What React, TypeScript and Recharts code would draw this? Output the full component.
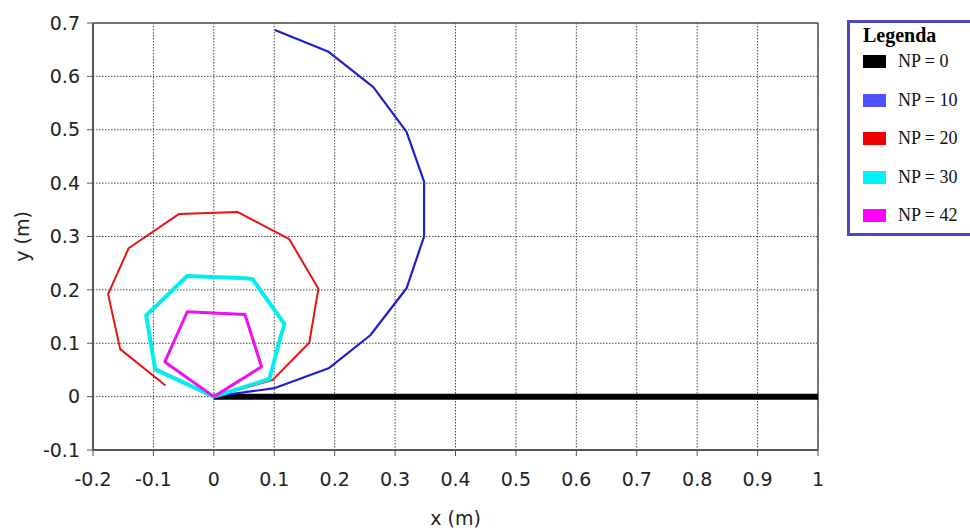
import { LineChart, Line, XAxis, YAxis, CartesianGrid, ReferenceLine } from "recharts";

const xTicks = [-0.2, -0.1, 0, 0.1, 0.2, 0.3, 0.4, 0.5, 0.6, 0.7, 0.8, 0.9, 1];
const yTicks = [-0.1, 0, 0.1, 0.2, 0.3, 0.4, 0.5, 0.6, 0.7];
const xMinorTicks = [-0.15, -0.05, 0.05, 0.15, 0.25, 0.35, 0.45, 0.55, 0.65, 0.75, 0.85, 0.95];
const yMinorTicks = [-0.05, 0.05, 0.15, 0.25, 0.35, 0.45, 0.55, 0.65];

// trajectories
const np0X = [0, 1];
const np0Y = [0, 0];
const np10X = [0, 0.101, 0.19, 0.259, 0.319, 0.348, 0.348, 0.319, 0.264, 0.19, 0.101];
const np10Y = [0, 0.016, 0.053, 0.115, 0.203, 0.3, 0.403, 0.496, 0.58, 0.646, 0.687];
const np20X = [0, 0.097, 0.158, 0.173, 0.125, 0.039, -0.058, -0.141, -0.175, -0.155, -0.08];
const np20Y = [0, 0.031, 0.101, 0.202, 0.295, 0.346, 0.342, 0.278, 0.192, 0.089, 0.021];
const np30X = [0, 0.092, 0.11, 0.117, 0.064, 0.053, -0.044, -0.112, -0.097, 0];
const np30Y = [0, 0.033, 0.11, 0.136, 0.22, 0.222, 0.226, 0.152, 0.051, 0];
const np42X = [0, 0.079, 0.0515, -0.044, -0.081, 0];
const np42Y = [0, 0.056, 0.154, 0.159, 0.065, 0];

const toPoints = (xs: number[], ys: number[]) => xs.map((x, i) => ({ x, y: ys[i] }));

const series = [
  { name: "NP = 0", data: toPoints(np0X, np0Y), stroke: "#000000", swatch: "#000000", width: 6 },
  { name: "NP = 10", data: toPoints(np10X, np10Y), stroke: "#1f1fcc", swatch: "#5050ff", width: 2.2 },
  { name: "NP = 20", data: toPoints(np20X, np20Y), stroke: "#e41414", swatch: "#ee0000", width: 2 },
  { name: "NP = 30", data: toPoints(np30X, np30Y), stroke: "#00eeee", swatch: "#00f4f4", width: 4 },
  { name: "NP = 42", data: toPoints(np42X, np42Y), stroke: "#ee10ee", swatch: "#ff00ff", width: 3 },
];

const tickStyle = { fontSize: 19, fill: "#222", fontFamily: "'DejaVu Sans', sans-serif" };
const axisColor = "#555";
const fmt = (v: number) => String(Math.round(v * 10) / 10);

function Legend() {
  return (
    <div
      style={{
        position: "absolute",
        left: 847,
        top: 20,
        width: 200,
        height: 210,
        border: "3px solid #4848c4",
        borderRight: "none",
        background: "#fff",
        fontFamily: "'Times New Roman', 'Liberation Serif', serif",
      }}
    >
      <div style={{ position: "absolute", left: 13, top: 1, fontSize: 20, fontWeight: "bold" }}>Legenda</div>
      {series.map((s, i) => (
        <div
          key={s.name}
          style={{ position: "absolute", left: 13, top: 28 + i * 38.5, display: "flex", alignItems: "center" }}
        >
          <span style={{ width: 23, height: 13, background: s.swatch, display: "inline-block" }} />
          <span style={{ marginLeft: 12, fontSize: 18, color: "#111" }}>{s.name}</span>
        </div>
      ))}
    </div>
  );
}

export default function App() {
  return (
    <div style={{ position: "absolute", left: 0, top: 0, width: 970, height: 530, overflow: "hidden", background: "#fff" }}>
      <LineChart width={970} height={530} margin={{ top: 23, right: 152, bottom: 0, left: 0 }}>
        <CartesianGrid stroke="#4a4a4a" strokeDasharray="1.5 1.5" />
        <XAxis
          xAxisId="minor"
          type="number"
          dataKey="x"
          domain={[-0.2, 1]}
          ticks={xMinorTicks}
          tickSize={3}
          tickFormatter={() => ""}
          height={0}
          axisLine={false}
          tickLine={{ stroke: axisColor }}
        />
        <XAxis
          type="number"
          dataKey="x"
          domain={[-0.2, 1]}
          ticks={xTicks}
          tickSize={6}
          tickMargin={17}
          height={80}
          tick={tickStyle}
          tickFormatter={fmt}
          axisLine={{ stroke: axisColor, strokeWidth: 2 }}
          tickLine={{ stroke: axisColor }}
          label={{ value: "x (m)", position: "insideBottom", offset: 5, style: tickStyle }}
        />
        <YAxis
          yAxisId="minor"
          type="number"
          domain={[-0.1, 0.7]}
          ticks={yMinorTicks}
          tickSize={3}
          tickFormatter={() => ""}
          width={0}
          axisLine={false}
          tickLine={{ stroke: axisColor }}
        />
        <YAxis
          type="number"
          domain={[-0.1, 0.7]}
          ticks={yTicks}
          tickSize={6}
          tickMargin={7}
          width={93}
          tick={tickStyle}
          tickFormatter={fmt}
          axisLine={{ stroke: axisColor, strokeWidth: 2 }}
          tickLine={{ stroke: axisColor }}
          label={{
            value: "y (m)",
            angle: -90,
            position: "insideLeft",
            offset: 22,
            style: { ...tickStyle, textAnchor: "middle" },
          }}
        />
        <ReferenceLine y={0.7} stroke={axisColor} strokeWidth={1.5} />
        <ReferenceLine x={1} stroke={axisColor} strokeWidth={1.5} />
        {series.map((s) => (
          <Line
            key={s.name}
            data={s.data}
            dataKey="y"
            type="linear"
            stroke={s.stroke}
            strokeWidth={s.width}
            strokeLinejoin="round"
            dot={false}
            activeDot={false}
            isAnimationActive={false}
          />
        ))}
      </LineChart>
      <Legend />
    </div>
  );
}
